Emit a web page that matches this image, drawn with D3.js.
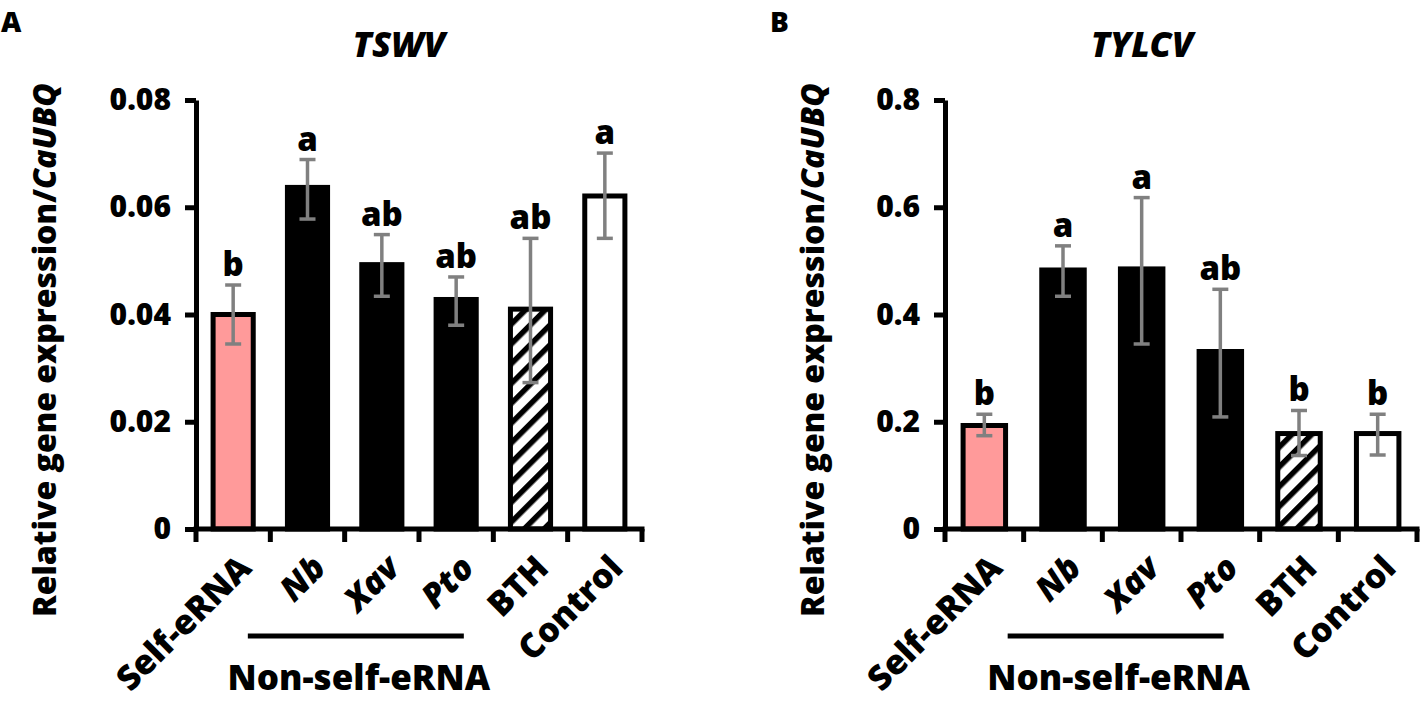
<!DOCTYPE html>
<html>
<head>
<meta charset="utf-8">
<script src="https://cdn.jsdelivr.net/npm/d3@7"></script>
<style>
  body { margin: 0; background: #fff; }
  text { font-family: "Open Sans", "Noto Sans", sans-serif; font-weight: 800; fill: #000; }
</style>
</head>
<body>
<div id="viz"></div>
<script>
// data
var categories = ["Self-eRNA", "Nb", "Xav", "Pto", "BTH", "Control"];
var italicCats = ["Nb", "Xav", "Pto"];

var tswvMean = [0.0400, 0.0637, 0.0493, 0.0428, 0.0410, 0.0621];
var tswvLow = [0.0345, 0.0578, 0.0434, 0.0380, 0.0273, 0.0542];
var tswvHigh = [0.0455, 0.0689, 0.0549, 0.0470, 0.0542, 0.0701];
var tswvLetters = ["b", "a", "ab", "ab", "ab", "a"];
var tswvTicks = [0, 0.02, 0.04, 0.06, 0.08];

var tylcvMean = [0.193, 0.483, 0.485, 0.331, 0.178, 0.178];
var tylcvLow = [0.174, 0.434, 0.345, 0.209, 0.137, 0.138];
var tylcvHigh = [0.214, 0.528, 0.618, 0.447, 0.221, 0.214];
var tylcvLetters = ["b", "a", "a", "ab", "b", "b"];
var tylcvTicks = [0, 0.2, 0.4, 0.6, 0.8];

var fills = ["#ff9a9a", "#000", "#000", "#000", "url(#hatch)", "#fff"];

var svg = d3.select("#viz")
  .append("svg")
  .attr("width", 1421)
  .attr("height", 704);

// diagonal hatch for BTH
var pat = svg.append("defs").append("pattern")
  .attr("id", "hatch")
  .attr("patternUnits", "userSpaceOnUse")
  .attr("width", 14)
  .attr("height", 14)
  .attr("patternTransform", "rotate(45)");
pat.append("rect").attr("width", 14).attr("height", 14).attr("fill", "#fff");
pat.append("rect").attr("width", 5.5).attr("height", 14).attr("fill", "#000");

function panel(o) {
  var g = svg.append("g");

  var x = d3.scaleBand().domain(categories).range([o.x0, o.x1]);
  var y = d3.scaleLinear().domain([0, o.max]).range([529, 100]);
  var step = x.step();
  var bw = step * 0.54;

  // panel letter and title
  g.append("text").attr("x", o.letterX).attr("y", 32)
    .style("font-size", "28px").text(o.letter);
  g.append("text").attr("x", o.titleX).attr("y", 57)
    .attr("text-anchor", "middle")
    .style("font-size", "35px").style("font-style", "italic")
    .text(o.title);

  // bars
  g.selectAll("rect.bar").data(o.mean).enter()
    .append("rect")
    .attr("class", "bar")
    .attr("x", function(d, i) { return x(categories[i]) + (step - bw) / 2; })
    .attr("y", function(d) { return y(d); })
    .attr("width", bw)
    .attr("height", function(d) { return y(0) - y(d); })
    .attr("fill", function(d, i) { return fills[i]; })
    .attr("stroke", "#000")
    .attr("stroke-width", 5);

  // error bars
  var eb = g.selectAll("g.err").data(o.mean).enter().append("g").attr("class", "err")
    .attr("stroke", "#808080").attr("stroke-width", 3.5);
  eb.append("line")
    .attr("x1", function(d, i) { return x(categories[i]) + step / 2; })
    .attr("x2", function(d, i) { return x(categories[i]) + step / 2; })
    .attr("y1", function(d, i) { return y(o.low[i]); })
    .attr("y2", function(d, i) { return y(o.high[i]); });
  [o.low, o.high].forEach(function(arr) {
    eb.append("line")
      .attr("x1", function(d, i) { return x(categories[i]) + step / 2 - 8; })
      .attr("x2", function(d, i) { return x(categories[i]) + step / 2 + 8; })
      .attr("y1", function(d, i) { return y(arr[i]); })
      .attr("y2", function(d, i) { return y(arr[i]); });
  });

  // significance letters
  g.selectAll("text.sig").data(o.letters).enter()
    .append("text")
    .attr("class", "sig")
    .attr("x", function(d, i) { return x(categories[i]) + step / 2; })
    .attr("y", function(d, i) { return y(o.high[i]) - 9; })
    .attr("text-anchor", "middle")
    .style("font-size", "33px")
    .text(function(d) { return d; });

  // y axis
  var yAxis = g.append("g")
    .attr("transform", "translate(" + o.x0 + ",0)")
    .call(d3.axisLeft(y).tickValues(o.ticks).tickSize(11).tickSizeOuter(0).tickPadding(14)
      .tickFormat(function(d) { return d === 0 ? "0" : d3.format(o.fmt)(d); }));
  yAxis.select(".domain").attr("stroke", "#000").attr("stroke-width", 5);
  yAxis.selectAll(".tick line").attr("stroke", "#000").attr("stroke-width", 5);
  yAxis.selectAll(".tick text")
    .style("font-family", "'Open Sans', sans-serif").style("font-weight", 800)
    .style("font-size", "30px").attr("fill", "#000");

  // x axis with ticks at category boundaries
  var xa = g.append("g");
  xa.append("line")
    .attr("x1", o.x0 - 2.5).attr("x2", o.x1 + 2.5)
    .attr("y1", y(0)).attr("y2", y(0))
    .attr("stroke", "#000").attr("stroke-width", 5);
  xa.selectAll("line.xt").data(categories.concat(["end"])).enter()
    .append("line")
    .attr("class", "xt")
    .attr("x1", function(d) { return d === "end" ? o.x1 : x(d); })
    .attr("x2", function(d) { return d === "end" ? o.x1 : x(d); })
    .attr("y1", y(0)).attr("y2", y(0) + 13)
    .attr("stroke", "#000").attr("stroke-width", 5);

  // rotated category labels
  g.selectAll("text.cat").data(categories).enter()
    .append("text")
    .attr("class", "cat")
    .attr("text-anchor", "end")
    .attr("transform", function(d) {
      return "translate(" + (x(d) + step / 2 + 20) + "," + 570 + ") rotate(-45)";
    })
    .style("font-size", "34px")
    .style("font-style", function(d) { return italicCats.indexOf(d) >= 0 ? "italic" : "normal"; })
    .text(function(d) { return d; });

  // group bracket for non-self eRNAs
  var cx = x("Xav") + step / 2 - 26;
  g.append("line")
    .attr("x1", cx - 108).attr("x2", cx + 108)
    .attr("y1", 636).attr("y2", 636)
    .attr("stroke", "#000").attr("stroke-width", 5);
  g.append("text")
    .attr("x", cx + 3).attr("y", 690)
    .attr("text-anchor", "middle")
    .style("font-size", "35px")
    .text("Non-self-eRNA");

  // y axis title
  var yt = g.append("text")
    .attr("transform", "translate(" + o.labelX + ",350) rotate(-90)")
    .attr("text-anchor", "middle")
    .style("font-size", "32px");
  yt.append("tspan").text("Relative gene expression/");
  yt.append("tspan").style("font-style", "italic").text("CaUBQ");
}

panel({
  letter: "A", letterX: 1, title: "TSWV", titleX: 399,
  x0: 196, x1: 642, max: 0.08, ticks: tswvTicks, fmt: ".2f",
  mean: tswvMean, low: tswvLow, high: tswvHigh, letters: tswvLetters,
  labelX: 56
});

panel({
  letter: "B", letterX: 770, title: "TYLCV", titleX: 1142,
  x0: 945, x1: 1417, max: 0.8, ticks: tylcvTicks, fmt: ".1f",
  mean: tylcvMean, low: tylcvLow, high: tylcvHigh, letters: tylcvLetters,
  labelX: 824
});
</script>
</body>
</html>
